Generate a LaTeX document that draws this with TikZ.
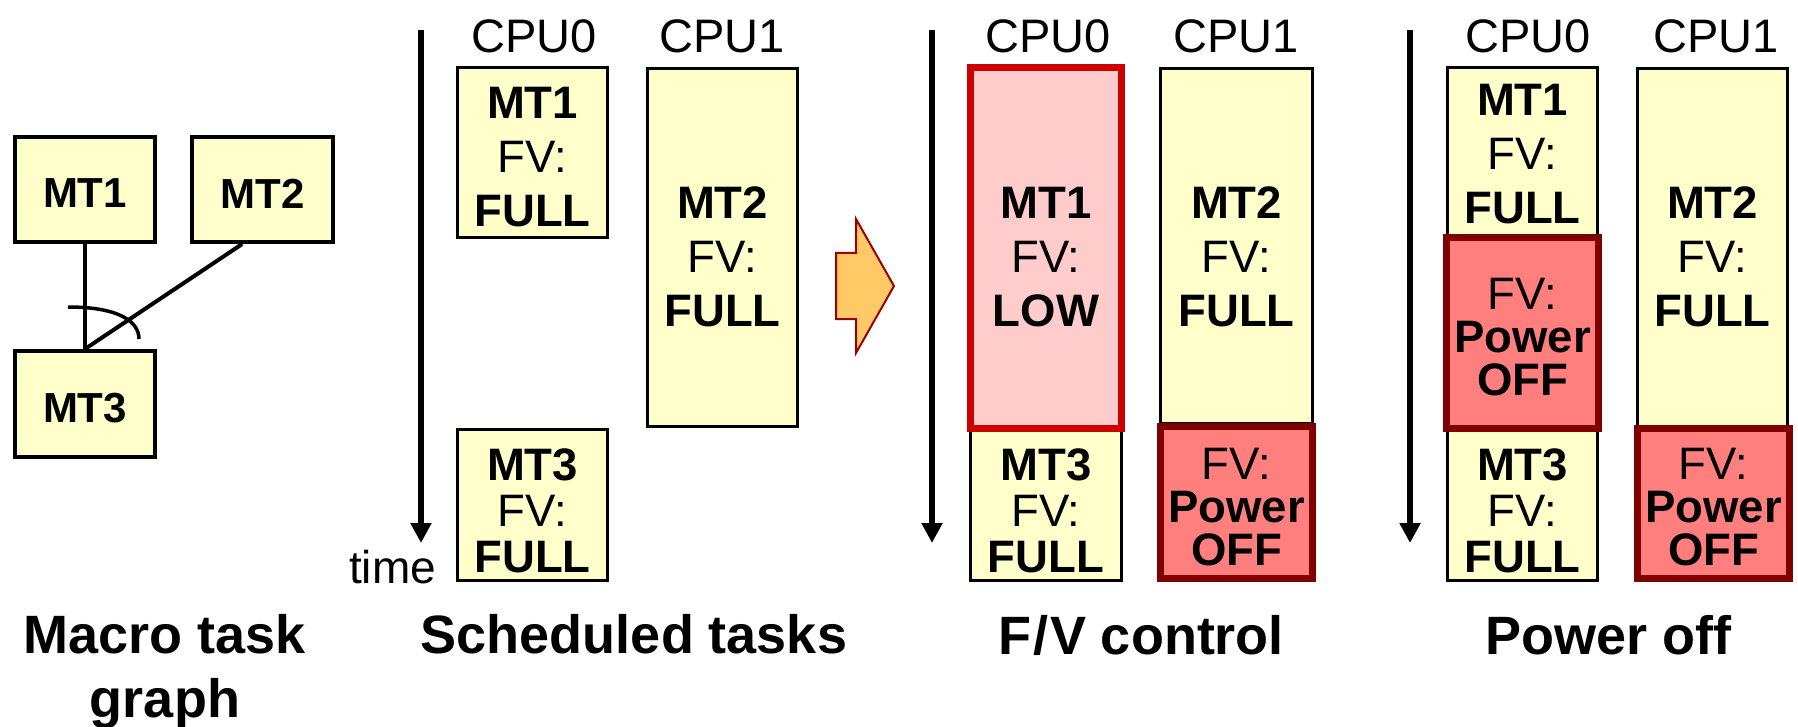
\documentclass[tikz,border=0pt]{standalone}
\usepackage{fontspec}
\setmainfont{Liberation Sans}
\usetikzlibrary{arrows.meta,calc}
\definecolor{yel}{HTML}{FFFFCC}
\definecolor{lowfill}{HTML}{FFCCCC}
\definecolor{lowdraw}{HTML}{CC0000}
\definecolor{offfill}{HTML}{FF7F7F}
\definecolor{offdraw}{HTML}{800000}
\definecolor{arrfill}{HTML}{FFC966}
\definecolor{arrdraw}{HTML}{990000}
\begin{document}
\begin{tikzpicture}[x=1pt,y=-1pt,
  ybox/.style={draw=black, line width=2.6pt, fill=yel, inner sep=0pt},
  gbox/.style={draw=black, line width=4pt, fill=yel, inner sep=0pt},
  lowbox/.style={draw=lowdraw, line width=7pt, fill=lowfill, inner sep=0pt},
  offbox/.style={draw=offdraw, line width=7pt, fill=offfill, inner sep=0pt},
  tall/.style={align=center, inner sep=0pt, font=\fontsize{45.5}{54}\selectfont},
  short/.style={align=center, inner sep=0pt, font=\fontsize{45.5}{46}\selectfont},
  offtxt/.style={align=center, inner sep=0pt, font=\fontsize{45.5}{43}\selectfont},
  gtxt/.style={inner sep=0pt, font=\fontsize{42}{44}\selectfont\bfseries},
  cpu/.style={anchor=base, inner sep=0pt, font=\fontsize{47}{50}\selectfont},
  caption/.style={anchor=base, inner sep=0pt, font=\fontsize{54}{64}\selectfont\bfseries},
  timearrow/.style={line width=6pt, -{Triangle[width=20pt,length=20pt]}},
  edge/.style={line width=4pt}
]
\useasboundingbox (0,0) rectangle (1798,727);

% ---------- Macro task graph ----------
\node[gbox, minimum width=140pt, minimum height=105pt] (g1) at (85,189.5) {};
\node[gbox, minimum width=141pt, minimum height=105pt] (g2) at (262.5,189.5) {};
\node[gbox, minimum width=140pt, minimum height=106pt] (g3) at (85,404) {};
\node[gtxt] (g1t) at ($(g1.center)+(0,4)$) {MT1};
\node[gtxt] (g2t) at ($(g2.center)+(0,4)$) {MT2};
\node[gtxt] (g3t) at ($(g3.center)+(0,4)$) {MT3};
\draw[edge] (g1.south) -- (g3.north);
\draw[edge] ($(g2.south west)!0.36!(g2.south east)$) -- (g3.north);
\coordinate (arcA) at (68,307);
\coordinate (arcB) at (139,339);
\draw[line width=3.5pt] (arcA) .. controls (120,307) and (139,322) .. (arcB);

% ---------- Scheduled tasks ----------
\coordinate (ta1) at (421,30);
\coordinate (tb1) at (421,543);
\draw[timearrow] (ta1) -- (tb1);
\node[anchor=base, inner sep=0pt, font=\fontsize{46}{50}\selectfont] (time) at (392.5,583) {time};
\node[cpu] (s0l) at (534,53) {CPU0};
\node[cpu] (s1l) at (722,53) {CPU1};
\node[ybox, minimum width=150.4pt, minimum height=170.4pt] (s0a) at (532.5,152.5) {};
\node[tall] (s0at) at ($(s0a.center)+(0,4.5)$) {\textbf{MT1}\\FV:\\\textbf{FULL}};
\node[ybox, minimum width=150.4pt, minimum height=358.4pt] (s1a) at (722.5,247.5) {};
\node[tall] (s1at) at ($(s1a.center)+(0,9.5)$) {\textbf{MT2}\\FV:\\\textbf{FULL}};
\node[ybox, minimum width=150.4pt, minimum height=151.4pt] (s0b) at (532.5,505) {};
\node[short] (s0bt) at ($(s0b.center)+(0,5.5)$) {\textbf{MT3}\\FV:\\\textbf{FULL}};

% ---------- big arrow ----------
\draw[fill=arrfill, draw=arrdraw, line width=2pt, line join=miter]
  (836,253) -- (856,253) -- (856,219) -- (894,286) -- (856,353) -- (856,319) -- (836,319) -- cycle;

% ---------- F/V control ----------
\coordinate (ta2) at (932,30);
\coordinate (tb2) at (932,543);
\draw[timearrow] (ta2) -- (tb2);
\node[cpu] (f0l) at (1048,53) {CPU0};
\node[cpu] (f1l) at (1236,53) {CPU1};
\node[ybox, minimum width=151.4pt, minimum height=151.4pt] (f0b) at (1046,505) {};
\node[short] (f0bt) at ($(f0b.center)+(0,5.5)$) {\textbf{MT3}\\FV:\\\textbf{FULL}};
\node[ybox, minimum width=152.4pt, minimum height=355.4pt] (f1a) at (1236.5,246) {};
\node[tall] (f1at) at ($(f1a.center)+(0,11)$) {\textbf{MT2}\\FV:\\\textbf{FULL}};
\node[lowbox, minimum width=151pt, minimum height=361pt] (f0a) at (1046,248) {};
\node[tall] (f0at) at ($(f0a.center)+(0,9)$) {\textbf{MT1}\\FV:\\\textbf{LOW}};
\node[offbox, minimum width=152pt, minimum height=152pt] (f1b) at (1236.5,502.5) {};
\node[offtxt] (f1bt) at ($(f1b.center)+(0,4.5)$) {FV:\\\textbf{Power}\\\textbf{OFF}};

% ---------- Power off ----------
\coordinate (ta3) at (1410,30);
\coordinate (tb3) at (1410,543);
\draw[timearrow] (ta3) -- (tb3);
\node[cpu] (p0l) at (1528,53) {CPU0};
\node[cpu] (p1l) at (1716,53) {CPU1};
\node[ybox, minimum width=150.4pt, minimum height=168.4pt] (p0a) at (1522.5,151.5) {};
\node[tall] (p0at) at ($(p0a.center)+(0,2.5)$) {\textbf{MT1}\\FV:\\\textbf{FULL}};
\node[ybox, minimum width=150.4pt, minimum height=151.4pt] (p0c) at (1522.5,505) {};
\node[short] (p0ct) at ($(p0c.center)+(0,5.5)$) {\textbf{MT3}\\FV:\\\textbf{FULL}};
\node[ybox, minimum width=150.4pt, minimum height=358.4pt] (p1a) at (1712.5,247.5) {};
\node[tall] (p1at) at ($(p1a.center)+(0,9.5)$) {\textbf{MT2}\\FV:\\\textbf{FULL}};
\node[offbox, minimum width=152pt, minimum height=191pt] (p0b) at (1522.5,333) {};
\node[offtxt] (p0bt) at ($(p0b.center)+(0,4.5)$) {FV:\\\textbf{Power}\\\textbf{OFF}};
\node[offbox, minimum width=152pt, minimum height=150pt] (p1b) at (1713.5,503.5) {};
\node[offtxt] (p1bt) at ($(p1b.center)+(0,4)$) {FV:\\\textbf{Power}\\\textbf{OFF}};

% ---------- captions ----------
\node[caption] (c1a) at (165,653) {Macro task};
\node[caption] (c1b) at (165,717) {graph};
\node[caption] (c2) at (634,653) {Scheduled tasks};
\node[caption] (c3) at (1141,654) {F\kern2pt/\kern2pt V control};
\node[caption] (c4) at (1608,654) {Power off};
\end{tikzpicture}
\end{document}
